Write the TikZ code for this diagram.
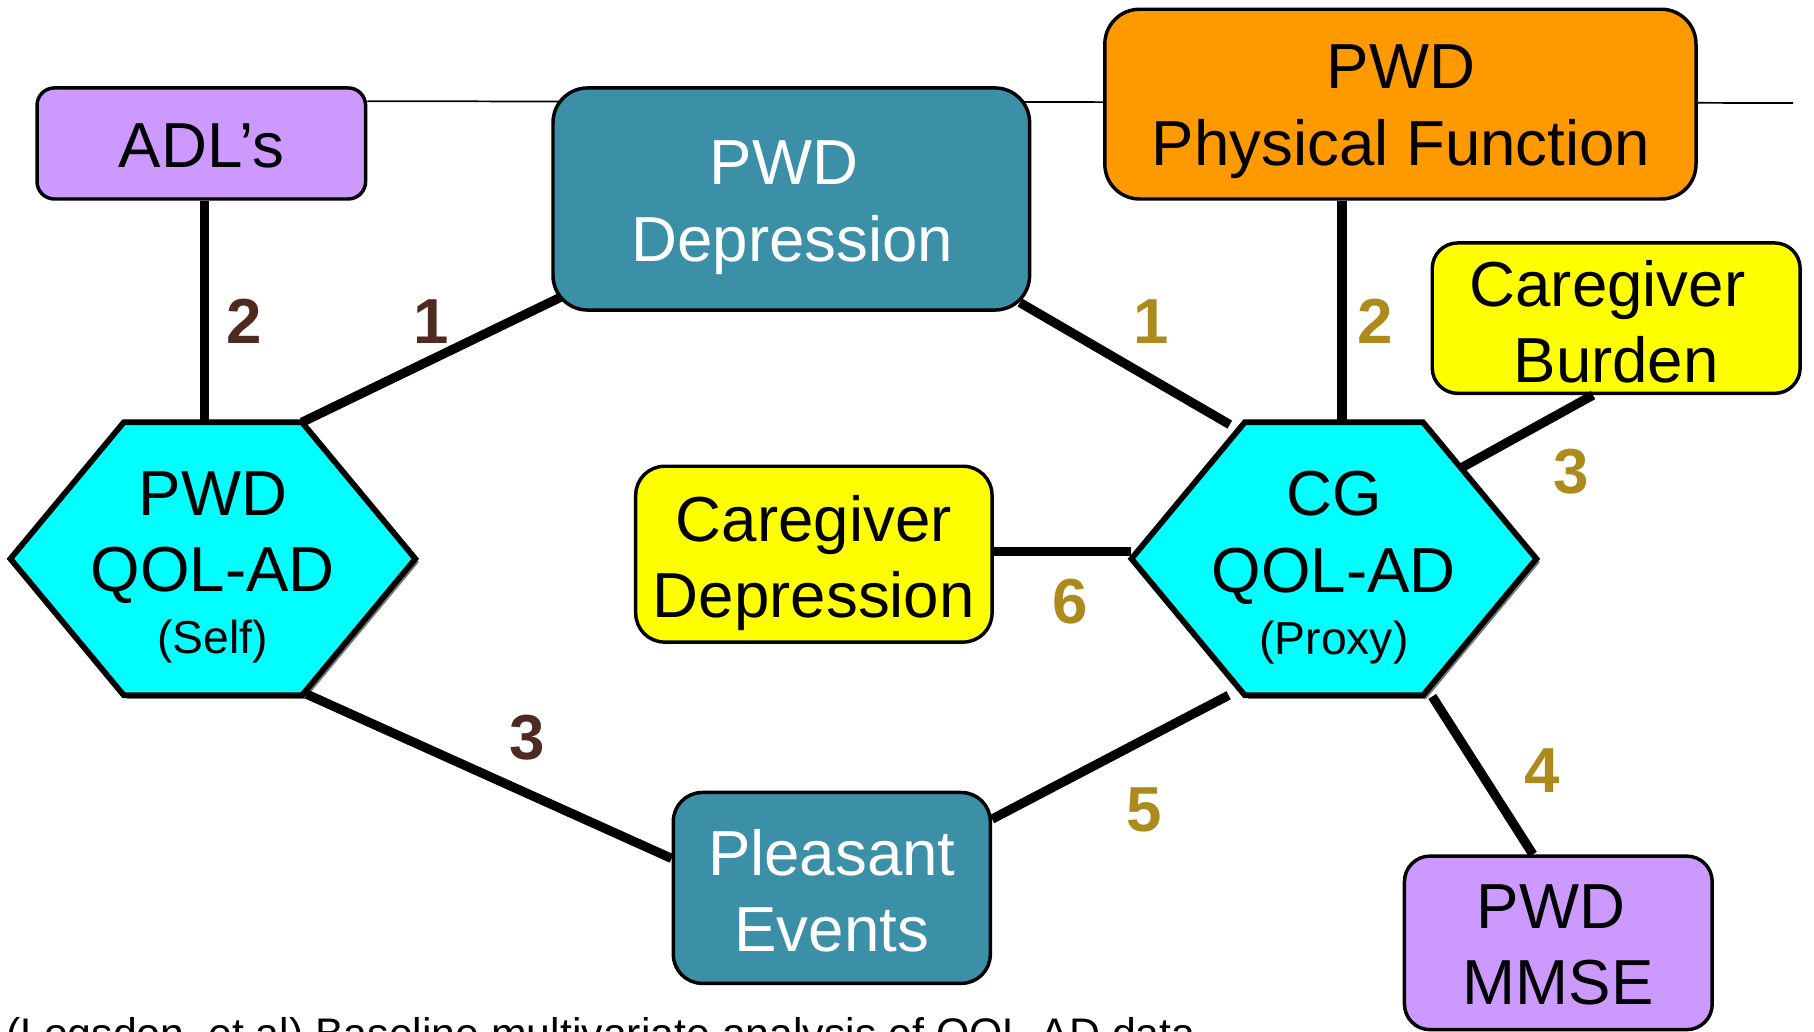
\documentclass[tikz,border=0pt]{standalone}
\usepackage{fontspec}
\setmainfont{Liberation Sans}
\usetikzlibrary{calc,backgrounds}
\definecolor{lav}{HTML}{CC99FF}
\definecolor{tealbox}{HTML}{3B90A7}
\definecolor{orng}{HTML}{FF9900}
\definecolor{yel}{HTML}{FFFF00}
\definecolor{hexcyan}{HTML}{00FFFF}
\definecolor{brn}{HTML}{4F2A20}
\definecolor{gld}{HTML}{AD8A1C}
\definecolor{shd}{HTML}{7A7A7A}
\tikzset{
  boxnode/.style={draw=black, line width=3pt, rounded corners=#1, inner sep=0pt},
  lbl/.style={font=\fontsize{55}{66}\selectfont, align=center, inner sep=0pt, anchor=north},
  numlbl/.style={font=\fontsize{55}{66}\selectfont\bfseries, inner sep=0pt},
  conn/.style={line width=8pt},
  thinline/.style={line width=1.5pt},
  hexa/.pic={
    \fill[shd] (-74,-115) -- (80,-115) -- (178,3) -- (80,121) -- (-74,121) -- (-172,3) -- cycle;
    \filldraw[fill=hexcyan, draw=black, line width=5pt, line join=miter]
      (-77,-118) coordinate (-tl) -- (77,-118) coordinate (-tr) -- (175,0) coordinate (-r)
      -- (77,118) coordinate (-br) -- (-77,118) coordinate (-bl) -- (-175,0) coordinate (-l) -- cycle;
  }
}
\begin{document}
\begin{tikzpicture}[x=1pt,y=-1pt]
\useasboundingbox (0,0) rectangle (1568,892);

% boxes
\node[boxnode=15pt, fill=lav, minimum width=284pt, minimum height=96pt] (adl) at (174,124) {};
\node[boxnode=30pt, fill=tealbox, minimum width=412pt, minimum height=192pt] (dep) at (684,172) {};
\node[boxnode=30pt, fill=orng, minimum width=511pt, minimum height=164pt] (pf) at (1210.5,90) {};
\node[boxnode=22pt, fill=yel, minimum width=318pt, minimum height=130pt] (cb) at (1397,275) {};
\node[boxnode=25pt, fill=yel, minimum width=308pt, minimum height=152pt] (cd) at (703.5,479) {};
\node[boxnode=25pt, fill=tealbox, minimum width=274pt, minimum height=165pt] (pe) at (719,767.5) {};
\node[boxnode=22pt, fill=lav, minimum width=266pt, minimum height=150pt] (mm) at (1347,815) {};

% thin top rule, behind the boxes
\coordinate (ruleend) at (1550,89);
\begin{scope}[on background layer]
\draw[thinline] ($(adl.north east)+(0,13)$) -- (ruleend);
\end{scope}

% hexagons
\pic (L) at (184,483) {hexa};
\pic (R) at (1153,483) {hexa};

% connectors
\draw[conn] ($(adl.south)+(3,0)$) -- ($(L-tl)+(70,0)$);
\draw[conn] ($(dep.south west)+(9,-13)$) -- (L-tr);
\draw[conn] ($(dep.south east)+(-10,-8)$) -- ($(R-tl)+(-13,2)$);
\draw[conn] ($(pf.south)+(-50.5,0)$) -- ($(R-tl)+(84,0)$);
\draw[conn] ($(cb.south)+(-20,0)$) -- ($(R-tr)+(32,40)$);
\draw[conn] ($(cd.east)+(0,-2)$) -- ($(R-l)+(0,-6)$);
\draw[conn] ($(L-br)+(4,-1)$) -- ($(pe.west)+(0,-25.5)$);
\draw[conn] ($(R-bl)+(-14,0)$) -- ($(pe.east)+(0,-59.5)$);
\draw[conn] ($(R-br)+(8,1)$) -- ($(mm.north)+(-22,0)$);

% texts
\node[lbl] (adlt) at (174,106.6) {ADL’s};
\node[lbl, text=white] (dept) at (685,121.6) {PWD\hspace*{15pt}\\Depression};
\node[lbl] (pft) at (1211,38.6) {PWD\\Physical Function};
\node[lbl] (cbt) at (1397,224.6) {Caregiver\hspace*{15pt}\\Burden};
\node[lbl] (cdt) at (703.5,428) {Caregiver\\Depression};
\node[lbl, text=white] (pet) at (719,716.6) {Pleasant\\Events};
\node[lbl] (mmt) at (1347,764.6) {PWD\hspace*{13pt}\\MMSE};
\node[lbl] (Lt) at (184,407.2) {PWD\\QOL-AD\\[-12.5pt]{\fontsize{40}{48}\selectfont (Self)}};
\node[lbl] (Rt) at (1153,407.2) {CG\\QOL-AD\\[-12.5pt]{\fontsize{40}{48}\selectfont (Proxy)}};

% weights
\node[numlbl, text=brn] (w1) at (211,278) {2};
\node[numlbl, text=brn] (w2) at (373,278) {1};
\node[numlbl, text=gld] (w3) at (995,278) {1};
\node[numlbl, text=gld] (w4) at (1189,278) {2};
\node[numlbl, text=gld] (w5) at (1358,408) {3};
\node[numlbl, text=gld] (w6) at (925,520) {6};
\node[numlbl, text=brn] (w7) at (456,638) {3};
\node[numlbl, text=gld] (w8) at (989,700) {5};
\node[numlbl, text=gld] (w9) at (1333,666) {4};

% caption (cut by the lower edge, as in the reference)
\node[anchor=base west, inner sep=0pt, font=\fontsize{37}{44}\selectfont] (cap) at (5,906) {(Logsdon, et al) Baseline multivariate analysis of QOL-AD data};
\end{tikzpicture}
\end{document}
